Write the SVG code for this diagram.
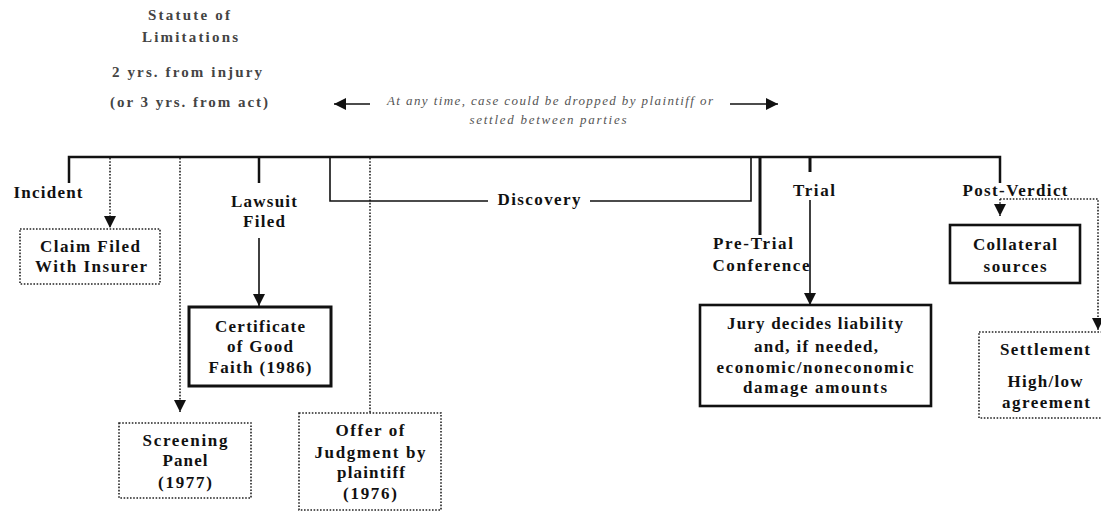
<svg xmlns="http://www.w3.org/2000/svg" width="1101" height="512" viewBox="0 0 1101 512">
<style>
.t{font-family:"Liberation Serif","Times New Roman",serif;font-weight:bold;font-size:17px;fill:#111;text-anchor:middle}
.top{font-family:"Liberation Serif","Times New Roman",serif;font-weight:bold;font-size:15px;fill:#444;text-anchor:middle}
.it{font-family:"Liberation Serif","Times New Roman",serif;font-style:italic;font-size:13px;fill:#555;text-anchor:middle}
.solid{fill:none;stroke:#111;stroke-width:2.5}
.thin{fill:none;stroke:#111;stroke-width:1.6}
.dot{fill:none;stroke:#222;stroke-width:1.6;stroke-dasharray:1.6,1.6}
.box{fill:#fff;stroke:#111;stroke-width:2.6}
.dbox{fill:#fff;stroke:#222;stroke-width:1.6;stroke-dasharray:1.6,1.6}
</style>
<defs>
<marker id="ah" markerUnits="userSpaceOnUse" markerWidth="14" markerHeight="14" refX="12" refY="6" orient="auto">
<path d="M0,0 L12,6 L0,12 z" fill="#111"/>
</marker>
</defs>
<rect width="1101" height="512" fill="#fff"/>

<g id="statute">
<text class="top" x="189" y="20" textLength="82">Statute of</text>
<text class="top" x="190" y="42" textLength="96">Limitations</text>
<text class="top" x="187" y="77" textLength="150">2 yrs. from injury</text>
<text class="top" x="189" y="107" textLength="158">(or 3 yrs. from act)</text>
</g>

<g id="anytime">
<text class="it" x="550" y="105" textLength="326">At any time, case could be dropped by plaintiff or</text>
<text class="it" x="548" y="124" textLength="157">settled between parties</text>
</g>

<g id="connectors">
<line class="thin" x1="370" y1="104" x2="334" y2="104" marker-end="url(#ah)"/>
<line class="thin" x1="730" y1="104" x2="778" y2="104" marker-end="url(#ah)"/>
<path class="solid" d="M69,183 V157 H1000 V183"/>
<line class="solid" x1="259" y1="157" x2="259" y2="183"/>
<line class="dot" x1="110" y1="158" x2="110" y2="228" marker-end="url(#ah)"/>
<line class="dot" x1="180" y1="158" x2="180" y2="412" marker-end="url(#ah)"/>
<line class="dot" x1="370" y1="158" x2="370" y2="413"/>
<line class="thin" x1="259" y1="238" x2="259" y2="306" marker-end="url(#ah)"/>
<path class="thin" d="M330,157 V201 H488 M590,201 H751 V157"/>
<line class="solid" x1="760" y1="157" x2="760" y2="235" style="stroke-width:3"/>
<line class="solid" x1="810" y1="157" x2="810" y2="172" style="stroke-width:3"/>
<line class="thin" x1="810" y1="200" x2="810" y2="305" marker-end="url(#ah)"/>
<line class="dot" x1="1000" y1="199" x2="1000" y2="216" marker-end="url(#ah)"/>
<path class="dot" d="M1000,199 H1098 V330" marker-end="url(#ah)"/>
</g>

<g id="incident"><text class="t" x="48" y="198" textLength="69">Incident</text></g>
<g id="lawsuit">
<text class="t" x="264" y="207" textLength="66">Lawsuit</text>
<text class="t" x="264" y="227" textLength="42">Filed</text>
</g>
<g id="discovery"><text class="t" x="539" y="205" textLength="83">Discovery</text></g>
<g id="pretrial">
<text class="t" x="753" y="249" textLength="80">Pre-Trial</text>
<text class="t" x="761" y="271" textLength="97">Conference</text>
</g>
<g id="trial"><text class="t" x="814" y="196" textLength="42">Trial</text></g>
<g id="postverdict"><text class="t" x="1015" y="196" textLength="105">Post-Verdict</text></g>

<g id="claim">
<rect class="dbox" x="20" y="229" width="140" height="55"/>
<text class="t" x="90" y="252" textLength="100">Claim Filed</text>
<text class="t" x="91" y="272" textLength="112">With Insurer</text>
</g>
<g id="screening">
<rect class="dbox" x="119" y="423" width="132" height="75"/>
<text class="t" x="185" y="446" textLength="85">Screening</text>
<text class="t" x="185" y="466" textLength="45">Panel</text>
<text class="t" x="185" y="488" textLength="54">(1977)</text>
</g>
<g id="certificate">
<rect class="box" x="189" y="307" width="142" height="79" style="stroke-width:3"/>
<text class="t" x="260" y="332" textLength="90">Certificate</text>
<text class="t" x="260" y="352" textLength="66">of Good</text>
<text class="t" x="260" y="373" textLength="103">Faith (1986)</text>
</g>
<g id="offer">
<rect class="dbox" x="299" y="413" width="142" height="97"/>
<text class="t" x="370" y="436" textLength="69">Offer of</text>
<text class="t" x="370" y="458" textLength="111">Judgment by</text>
<text class="t" x="371" y="478" textLength="68">plaintiff</text>
<text class="t" x="370" y="499" textLength="54">(1976)</text>
</g>
<g id="jury">
<rect class="box" x="700" y="305" width="231" height="101"/>
<text class="t" x="815" y="329" textLength="176">Jury decides liability</text>
<text class="t" x="816" y="352" textLength="124">and, if needed,</text>
<text class="t" x="815" y="373" textLength="197">economic/noneconomic</text>
<text class="t" x="815" y="393" textLength="144">damage amounts</text>
</g>
<g id="collateral">
<rect class="box" x="950" y="225" width="130" height="58"/>
<text class="t" x="1015" y="250" textLength="84">Collateral</text>
<text class="t" x="1015" y="272" textLength="63">sources</text>
</g>
<g id="settlement">
<rect class="dbox" x="979" y="332" width="125" height="86"/>
<text class="t" x="1045" y="355" textLength="90">Settlement</text>
<text class="t" x="1045" y="387" textLength="75">High/low</text>
<text class="t" x="1046" y="408" textLength="88">agreement</text>
</g>
</svg>
